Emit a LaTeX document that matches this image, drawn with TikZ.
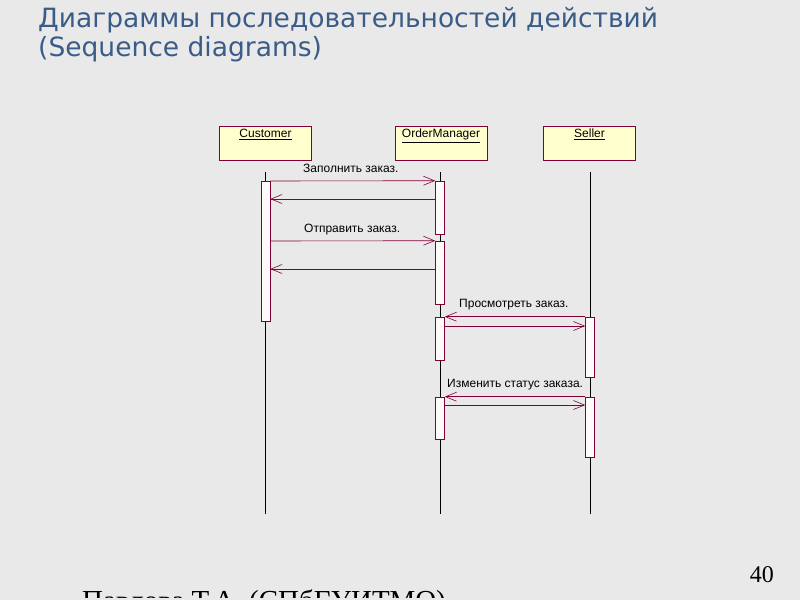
\documentclass[tikz,border=0pt]{standalone}
\usepackage{fontspec}
\setmainfont{Liberation Serif}
\newfontfamily\titlefont{DejaVu Sans}
\newfontfamily\umlfont{Liberation Sans}
\usetikzlibrary{arrows.meta}
\definecolor{bg}{RGB}{233,233,233}
\definecolor{titleblue}{RGB}{58,92,136}
\definecolor{umlred}{RGB}{128,0,56}
\definecolor{boxfill}{RGB}{255,255,206}
\definecolor{actfill}{RGB}{255,251,251}
\tikzset{
  objbox/.style={draw=umlred, fill=boxfill, minimum width=92pt, minimum height=34pt, inner sep=0pt, line width=0.6pt},
  objlabel/.style={font=\umlfont\fontsize{12}{14}\selectfont, anchor=north, inner sep=0pt},
  lifeline/.style={draw=black, line width=0.7pt},
  actbox/.style={draw=umlred, fill=actfill, minimum width=9pt, inner sep=0pt, line width=0.6pt},
  msg/.style={draw=umlred, line width=0.6pt, -{Straight Barb[length=11pt,width=9pt]}},
  msglabel/.style={font=\umlfont\fontsize{12}{14}\selectfont, inner sep=0pt, anchor=base west}
}
\begin{document}
\begin{tikzpicture}[x=1pt,y=-1pt]
\useasboundingbox (0,0) rectangle (800,600);
\fill[bg] (0,0) rectangle (800,600);
% title
\node[anchor=base west, inner sep=0pt, text=titleblue, font=\titlefont\fontsize{26.5}{30}\selectfont] (t1) at (38,27) {Диаграммы последовательностей действий};
\node[anchor=base west, inner sep=0pt, text=titleblue, font=\titlefont\fontsize{26.5}{30}\selectfont] (t2) at (38,56) {(Sequence diagrams)};
% objects
\node[objbox] (cust) at (265.5,143) {};
\node[objbox] (om) at (441,143) {};
\node[objbox] (sel) at (589.5,143) {};
\node[objlabel] (custl) at (265.5,129) {\underline{Customer}};
\node[objlabel] (oml) at (441,129) {\underline{OrderManager}};
\node[objlabel] (sell) at (589.5,129) {\underline{Seller}};
% lifelines
\coordinate (c0) at (265.5,172); \coordinate (c1) at (265.5,514);
\coordinate (o0) at (440,172);   \coordinate (o1) at (440,514);
\coordinate (s0) at (590,172);   \coordinate (s1) at (590,514);
\draw[lifeline] (c0) -- (c1);
\draw[lifeline] (o0) -- (o1);
\draw[lifeline] (s0) -- (s1);
% activations
\node[actbox, minimum height=140pt] (ca) at (265.5,251) {};
\node[actbox, minimum height=53pt] (oa1) at (440,207.5) {};
\node[actbox, minimum height=63pt] (oa2) at (440,272.5) {};
\node[actbox, minimum height=43pt] (oa3) at (440,338.5) {};
\node[actbox, minimum height=42pt] (oa4) at (440,418) {};
\node[actbox, minimum height=60pt] (sa1) at (590,347) {};
\node[actbox, minimum height=60pt] (sa2) at (590,427) {};
% messages
\draw[msg] (ca.north east |- 0,181) -- (oa1.north west);
\node[msglabel] (m1) at (303,172) {Заполнить заказ.};
\draw[msg] (oa1.west |- 0,199) -- (ca.east |- 0,199);
\draw[msg] (ca.east |- 0,241) -- (oa2.north west);
\node[msglabel] (m2) at (304,232) {Отправить заказ.};
\draw[msg] (oa2.west |- 0,269) -- (ca.east |- 0,269);
\draw[msg] (sa1.north west) -- (oa3.north east);
\node[msglabel] (m3) at (459,307) {Просмотреть заказ.};
\draw[msg] (oa3.east |- 0,326) -- (sa1.west |- 0,326);
\draw[msg] (sa2.north west) -- (oa4.north east);
\node[msglabel] (m4) at (447,387) {Изменить статус заказа.};
\draw[msg] (oa4.east |- 0,405) -- (sa2.west |- 0,405);
% page number and footer
\node[anchor=base east, inner sep=0pt, font=\fontsize{24}{28}\selectfont] (pg) at (774,582) {40};
\begin{scope}
\clip (0,560) rectangle (800,597);
\node[anchor=base west, inner sep=0pt, font=\fontsize{29}{32}\selectfont] (ft) at (82,610) {Павлова Т.А. (СПбГУИТМО)};
\end{scope}
\end{tikzpicture}
\end{document}
